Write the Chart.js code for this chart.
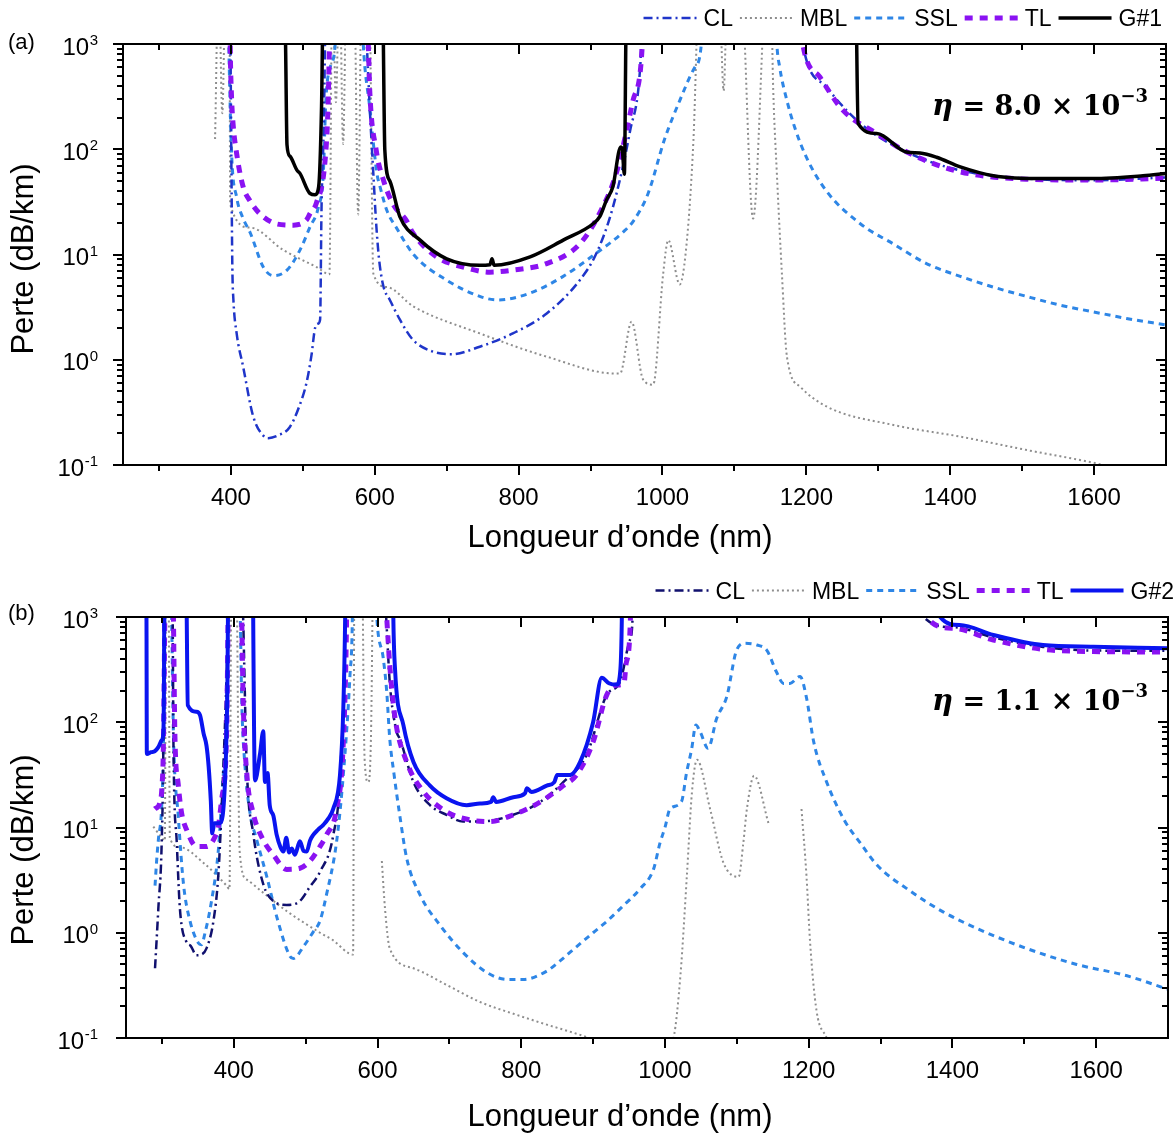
<!DOCTYPE html>
<html>
<head>
<meta charset="utf-8">
<script src="https://cdn.jsdelivr.net/npm/chart.js@4.4.0/dist/chart.umd.min.js"></script>
<style>
  html, body { margin: 0; padding: 0; background: #fff; }
  #wrap { position: relative; width: 1175px; height: 1135px; }
  canvas { position: absolute; left: 0; }
  #chartA { top: 0; }
  #chartB { top: 570px; }
</style>
</head>
<body>
<div id="wrap">
  <canvas id="chartA" width="1175" height="570"></canvas>
  <canvas id="chartB" width="1175" height="565"></canvas>
</div>
<script>
const FONT = '"Liberation Sans", Arial, Helvetica, sans-serif';
const MATH_FONT = '"DejaVu Serif", "Liberation Serif", serif';

// axis ticks
const X_TICKS = [400, 600, 800, 1000, 1200, 1400, 1600];
const Y_EXPONENTS = [-1, 0, 1, 2, 3];

// [wavelength nm, loss dB/km]; 5000 = off the top of the plot, null = no data
const clA = [[399,5000],[399.5,1000],[400,300],[401,40],[402,7.6],[403.5,3.7],[408,1.78],[417,0.86],[431,0.29],[445,0.19],[452,0.18],[465,0.19],[482,0.23],[495,0.36],[505,0.6],[512,1.1],[517,2.0],[521,2.2],[524,2.4],[526,28],[529,150],[533,5000],
  [585,5000],[589,1000],[593,250],[598,59],[602,19.5],[606,9],[612,5],[621,3.7],[635,2.4],[653,1.55],[680,1.2],[707,1.13],[746,1.33],[792,1.78],[839,2.75],[885,5.7],[908,10.2],[931,28],[955,150],[969,600],[975,5000],
  [1185,5000],[1195,1000],[1228,390],[1275,176],[1344,91],[1414,63],[1506,52.6],[1599,50.7],[1700,54]];
const mblA = [[378,125],[383,5000],[388,220],[393,5000],[398,3000],[399,30],[427,18],[473,11],[519,7.6],[537,6.5],[541,5000],[546,280],[551,5000],[556,112],[561,5000],[571,5000],[577,24],[582,5000],[592,5000],[598,6.6],[617,4.9],[654,3.2],[746,1.78],[839,1.07],[935,0.74],[941,0.74],[957,2.3],[973,0.65],[987,0.58],[1001,6.6],[1008,13.7],[1024,5.2],[1034,13.7],[1043,121],[1052,5000],
  [1078,5000],[1085,360],[1091,5000],[1108,5000],[1126,22],[1146,5000],[1150,5000],[1154,360],[1159,59],[1166,6.6],[1173,1.07],[1192,0.55],[1228,0.36],[1321,0.24],[1414,0.186],[1506,0.139],[1599,0.105],[1640,0.09]];
const sslA = [[395,5000],[397,1000],[401,90],[408,35],[417,22],[427,16],[445,7.6],[459,6.3],[478,7.1],[496,11],[510,18.3],[521.5,28],[528.5,59],[532,290],[538,600],[545,1000],[548,5000],
  [580,5000],[584,1000],[593,250],[603,59],[607,45],[617,26],[630,18],[654,10],[700,5.7],[746,4.0],[770,3.7],[816,4.3],[862,6.2],[908,10.3],[946,16.5],[960,21],[980,38],[1003,125],[1024,290],[1045,600],[1054,1000],[1057,5000],
  [1155,5000],[1159,1000],[1163,600],[1173,290],[1184,160],[1200,84],[1228,40],[1275,19.6],[1321,12.6],[1367,8.2],[1414,6.2],[1460,4.9],[1506,4.0],[1553,3.3],[1599,2.85],[1645,2.47],[1700,2.14]];
const tlA = [[398,5000],[399,1000],[401,300],[403,175],[408,91],[417,44],[427,32],[440,24.5],[464,19.5],[487,19],[505,21.3],[510,24.5],[519,31],[531,79],[535,250],[537,1000],[539,5000],
  [585,5000],[591,1000],[593,362],[602,98],[612,51],[625,30.5],[644,21],[653,16],[686,9.5],[723,7.6],[760,6.8],[792,7.1],[839,8.2],[885,12.6],[913,25],[936,60],[959,290],[972,1000],[975,5000],
  [1185,5000],[1195,1000],[1219,484],[1251,234],[1298,141],[1344,91],[1414,61],[1506,52],[1599,51],[1700,53]];
const g1A = [[474,5000],[476,1000],[478,110],[482,86],[492,63],[496,59],[510,38],[517,37],[522,44],[526,250],[529,5000],
  [611,5000],[612,1000],[614,98],[621,50],[635,22.8],[663,13.7],[700,9.1],[746,7.9],[760,8.0],[763,9.1],[766,7.9],[816,9.5],[862,13.7],[904,19.7],[913,23],[922,32.7],[931,44],[942,105],[944,100],[947,58],[949,1000],[950,5000],
  [1269,5000],[1270,1000],[1272,175],[1298,141],[1339,94],[1358,92],[1381,84],[1414,68],[1460,56],[1529,52.6],[1598,52.6],[1668,56],[1700,59]];

const clB = [[290.4,0.46],[295,1.7],[299.7,7.3],[302,65],[303,1000],[304,5000],
  [314,5000],[315,1000],[316,65],[320.6,7.3],[325,1.7],[334,0.82],[340,0.75],[348,0.61],[355,0.62],[362,0.71],[371.5,1.27],[378.5,3.55],[383,15],[390,281],[392,1000],[393,5000],
  [410,5000],[413,1000],[418,38],[427,8.8],[441,2.9],[455,2.0],[473.6,1.84],[492,2.0],[506,2.74],[520,3.8],[538.5,8.5],[548,31.6],[555,1000],[556,5000],
  [605,5000],[612,1000],[617,240],[626.7,81],[631,70],[650,27],[673,16.3],[696,13.2],[719,11.4],[742.6,11.4],[789,13.2],[826,17.4],[858.5,27],[891,49],[919,182],[937.6,243],[951,600],[955,1000],[956,5000],
  [1356,5000],[1360,1000],[1401,800],[1457,640],[1526,520],[1596,480],[1700,478]];
const mblB = [[288,10.2],[298,8.3],[304,7.5],[306,5000],[309,5000],[311,8],[325,6.5],[358,4.6],[390,2.8],[394,2.6],[397,5000],[403,5000],[408,6.1],[418,3.2],[441,2.4],[474,1.6],[520,1.0],[538,0.85],[566,0.62],[568,5000],
  [578,5000],[582,45],[587,27],[591,80],[594,5000],[600,null],[606,4.8],[610.4,1.7],[617,0.71],[650,0.46],[696,0.32],[742.6,0.22],[789,0.17],[835.5,0.134],[882,0.107],[912,0.09],[960,null],
  [1008,0.09],[1012,0.1],[1021.6,0.4],[1030.5,3.5],[1037.6,21.8],[1044.6,44],[1063,14.8],[1081.5,4.6],[1102.5,3.4],[1109,7.1],[1114,15],[1124,31],[1144,11],[1170,null],
  [1190,15],[1197,3.4],[1202,0.8],[1211,0.18],[1225,0.1],[1230,0.08]];
const sslB = [[290.4,2.8],[292.7,4.9],[295,7.6],[299.7,15.9],[302,55],[304,1000],[305.5,5000],
  [312,5000],[313.5,1000],[316,78],[322.8,12.7],[330,2.9],[339,1.3],[350.6,0.8],[355,0.77],[360,1.0],[369,2.0],[378.5,6.1],[383,18.3],[390,163],[392,1000],[393,5000],
  [405,5000],[409,1000],[411,163],[415.6,38],[422.6,13.7],[432,7.6],[446,3.4],[460,1.4],[478,0.6],[483,0.57],[497,0.74],[510.6,1.02],[520,1.3],[529,2.3],[543,7.3],[552.4,31.6],[561.7,281],[565,1000],[566,5000],
  [595,5000],[599,1000],[608,405],[612.7,200],[617,70],[623,32],[631,13],[640.6,5.1],[659,2.3],[687,1.18],[719,0.65],[752,0.42],[780,0.36],[803,0.36],[835,0.43],[854,0.54],[872,0.69],[900,1.0],[920,1.3],[940,1.75],[965,2.6],[984,4.0],[993,7.1],[1000,10],[1007,15],[1023,17.6],[1030,33],[1037,55],[1043,94],[1049,81],[1060,56.6],[1072,109],[1086,175],[1100,490],[1112,563],[1128,542],[1142,480],[1155,302],[1165,234],[1174,234],[1188,272],[1197,170],[1207,65],[1225,27],[1250,11.6],[1272,7.1],[1295,4.4],[1341,2.5],[1387,1.58],[1434,1.1],[1503,0.71],[1573,0.5],[1643,0.39],[1700,0.29]];
const tlB = [[290,15],[297,17],[300,24],[302,58],[304,1000],[305,5000],
  [314,5000],[316,1000],[318,78],[322.6,26],[327.4,13.7],[334.4,9.5],[348,6.6],[362,6.6],[374,8.2],[378.5,10.2],[383,18.3],[390,78],[392,1000],[393,5000],
  [408,5000],[411,1000],[413,163],[418,33],[427,13.7],[441,7.6],[455,5.5],[473.6,4.0],[492,4.1],[506,4.8],[520,6.6],[529,8.5],[543,15],[552.4,65],[557,1000],[558,5000],
  [605,5000],[612.7,1000],[617,350],[624.4,110],[640.6,42],[663.7,22],[696,14.1],[728.7,11.8],[756.5,11.4],[789,13.2],[826,17.4],[858.5,25],[877,31.6],[900,65],[919,182],[933,226],[943,234],[946,363],[952,1000],[953,5000],
  [1360,5000],[1364,1000],[1401,780],[1457,605],[1526,493],[1596,470],[1700,465]];
const g2B = [[277,5000],[278.5,1000],[279,50],[285,52],[290,53],[295,58],[300,68],[302,80],[303,400],[303.5,5000],
  [333.5,5000],[334.5,1000],[336,145],[348,126],[353,117],[358,78],[362,60],[365,38],[368,18],[370,8.8],[373,11],[381,11],[388,30],[391,200],[393,5000],
  [426.5,5000],[427,1000],[429.5,28],[436.5,50],[441,82],[443.4,27],[447,33],[450,16.3],[455,13],[459.7,8.5],[465,6.5],[469,5.9],[473,8],[477,5.8],[480.6,6.3],[485,5.5],[492,7.4],[497,6],[501.5,5.9],[506,7.5],[510.6,8.5],[517,9.5],[524.6,10.6],[531,12],[538.5,15.1],[547.8,31.6],[552.4,135],[555,1000],[556,5000],
  [621,5000],[622,1000],[624.3,326],[636,94],[650,42],[673,25],[696,19],[724,16.3],[742.6,16.9],[758,17.5],[761,19.4],[765,17.5],[789,19.4],[805,21],[808,23.6],[814,21.8],[835.5,25],[846,27],[850,31.6],[868,31.6],[882,42],[900,100],[912,265],[922,235],[933,228],[938,320],[940,1000],[941,5000],
  [1382,5000],[1383,1000],[1410,838],[1457,675],[1526,541],[1596,522],[1700,504]];

const STYLE = {
  CL:  { dash: [9, 4, 2, 4], width: 2.5, order: 2 },
  MBL: { dash: [2, 3], width: 2, order: 4, color: '#8e8e8e' },
  SSL: { dash: [6, 5], width: 3, order: 3, color: '#2e86e6' },
  TL:  { dash: [8, 7], width: 5, order: 1, color: '#8a12f2' },
  G:   { dash: [], width: 3.5, order: 0 }
};

function dataset(name, pts, style, color) {
  return {
    label: name,
    data: pts.map(p => ({ x: p[0], y: p[1] })),
    borderColor: color || style.color,
    borderWidth: style.width,
    borderDash: style.dash,
    order: style.order,
    pointRadius: 0,
    fill: false,
    spanGaps: false,
    cubicInterpolationMode: 'monotone'
  };
}

const decorPlugin = {
  id: 'decor',
  afterDraw(chart, args, o) {
    const { ctx, chartArea: a, scales: { x, y } } = chart;
    ctx.save();
    ctx.setLineDash([]);
    ctx.strokeStyle = '#000';
    ctx.lineWidth = 2;
    ctx.strokeRect(a.left, a.top, a.right - a.left, a.bottom - a.top);

    // tick marks: out on bottom/left, in on top/right
    ctx.beginPath();
    for (let v = 300; v < 1700; v += 100) {
      const px = Math.round(x.getPixelForValue(v));
      const len = v % 200 === 0 ? 10 : 6;
      ctx.moveTo(px, a.bottom); ctx.lineTo(px, a.bottom + len);
      ctx.moveTo(px, a.top); ctx.lineTo(px, a.top + len);
    }
    for (let e = -1; e <= 3; e++) {
      for (let m = 1; m <= 9; m++) {
        if (e === 3 && m > 1) break;
        const py = Math.round(y.getPixelForValue(m * Math.pow(10, e)));
        const len = m === 1 ? 10 : 6;
        ctx.moveTo(a.left, py); ctx.lineTo(a.left - len, py);
        ctx.moveTo(a.right, py); ctx.lineTo(a.right - len, py);
      }
    }
    ctx.stroke();

    ctx.fillStyle = '#000';
    // x tick labels
    ctx.font = `24px ${FONT}`;
    ctx.textAlign = 'center';
    ctx.textBaseline = 'alphabetic';
    X_TICKS.forEach(v => ctx.fillText(String(v), x.getPixelForValue(v), a.bottom + 40));

    // y tick labels 10^n
    Y_EXPONENTS.forEach(e => {
      const py = y.getPixelForValue(Math.pow(10, e));
      const sup = String(e);
      ctx.textAlign = 'right';
      ctx.font = `15px ${FONT}`;
      const sw = ctx.measureText(sup).width;
      ctx.fillText(sup, 98, py + 1);
      ctx.font = `24px ${FONT}`;
      ctx.fillText('10', 98 - sw - 0.5, py + 10.5);
    });

    // axis titles
    ctx.font = `31px ${FONT}`;
    ctx.textAlign = 'center';
    ctx.fillText('Longueur d\u2019onde (nm)', 620, o.xTitleY);
    ctx.save();
    ctx.translate(24, o.yTitleY);
    ctx.rotate(-Math.PI / 2);
    ctx.textBaseline = 'middle';
    ctx.fillText('Perte (dB/km)', 0, 0);
    ctx.restore();

    // panel tag
    ctx.font = `22px ${FONT}`;
    ctx.textAlign = 'left';
    ctx.fillText(o.tag, 8, o.tagY);

    // legend, right aligned, drawn from the datasets
    ctx.font = `23px ${FONT}`;
    let xr = o.legendRight;
    const sets = chart.data.datasets.slice().reverse();
    sets.forEach(ds => {
      const tw = ctx.measureText(ds.label).width;
      ctx.fillStyle = '#000';
      ctx.textAlign = 'left';
      ctx.fillText(ds.label, xr - tw, o.legendBase);
      const x1 = xr - tw - 7, x0 = x1 - 53;
      ctx.save();
      ctx.strokeStyle = ds.borderColor;
      ctx.lineWidth = ds.borderWidth;
      ctx.setLineDash(ds.borderDash);
      ctx.beginPath();
      ctx.moveTo(x0, o.legendLine); ctx.lineTo(x1, o.legendLine);
      ctx.stroke();
      ctx.restore();
      xr = x0 - 7;
    });

    // eta annotation
    const parts = [
      { t: '\u03b7', f: `italic bold 29px ${MATH_FONT}`, dy: 0 },
      { t: ' = ', f: `bold 27px ${MATH_FONT}`, dy: 0 },
      { t: o.eta, f: `bold 27px ${MATH_FONT}`, dy: 0 },
      { t: ' \u00d7 ', f: `bold 27px ${MATH_FONT}`, dy: 0 },
      { t: '10', f: `bold 27px ${MATH_FONT}`, dy: 0 },
      { t: '\u22123', f: `bold 18px ${MATH_FONT}`, dy: -13 }
    ];
    let total = 0;
    parts.forEach(p => { ctx.font = p.f; p.w = ctx.measureText(p.t).width; total += p.w; });
    let xp = 1148 - total;
    ctx.fillStyle = '#000';
    ctx.textAlign = 'left';
    parts.forEach(p => { ctx.font = p.f; ctx.fillText(p.t, xp, o.etaBase + p.dy); xp += p.w; });
    ctx.restore();
  }
};

function makeChart(id, datasets, box, decor) {
  return new Chart(document.getElementById(id), {
    type: 'line',
    data: { datasets: datasets },
    options: {
      responsive: false,
      animation: false,
      layout: { padding: { top: box.top, right: box.right, left: 0, bottom: 0 } },
      plugins: { legend: { display: false }, tooltip: { enabled: false }, decor: decor },
      scales: {
        x: {
          type: 'linear', min: 250, max: 1700,
          ticks: { display: false },
          grid: { display: false }, border: { display: false },
          afterFit: s => { s.height = box.xHeight; }
        },
        y: {
          type: 'logarithmic', min: 0.1, max: 1000,
          ticks: { display: false },
          grid: { display: false }, border: { display: false },
          afterFit: s => { s.width = box.yWidth; }
        }
      }
    },
    plugins: [decorPlugin]
  });
}

makeChart('chartA', [
  dataset('CL', clA, STYLE.CL, '#1f35c9'),
  dataset('MBL', mblA, STYLE.MBL),
  dataset('SSL', sslA, STYLE.SSL),
  dataset('TL', tlA, STYLE.TL),
  dataset('G#1', g1A, STYLE.G, '#000000')
], { top: 44, right: 9, xHeight: 105, yWidth: 123 },
{ tag: '(a)', tagY: 49, eta: '8.0', etaBase: 115, legendRight: 1162, legendBase: 26.2, legendLine: 18, xTitleY: 547, yTitleY: 259 });

makeChart('chartB', [
  dataset('CL', clB, STYLE.CL, '#10106e'),
  dataset('MBL', mblB, STYLE.MBL),
  dataset('SSL', sslB, STYLE.SSL),
  dataset('TL', tlB, STYLE.TL),
  dataset('G#2', g2B, Object.assign({}, STYLE.G, { width: 4 }), '#0a14f0')
], { top: 47, right: 7, xHeight: 97, yWidth: 126 },
{ tag: '(b)', tagY: 50, eta: '1.1', etaBase: 140, legendRight: 1174, legendBase: 28.5, legendLine: 20.5, xTitleY: 556, yTitleY: 280 });
</script>
</body>
</html>
